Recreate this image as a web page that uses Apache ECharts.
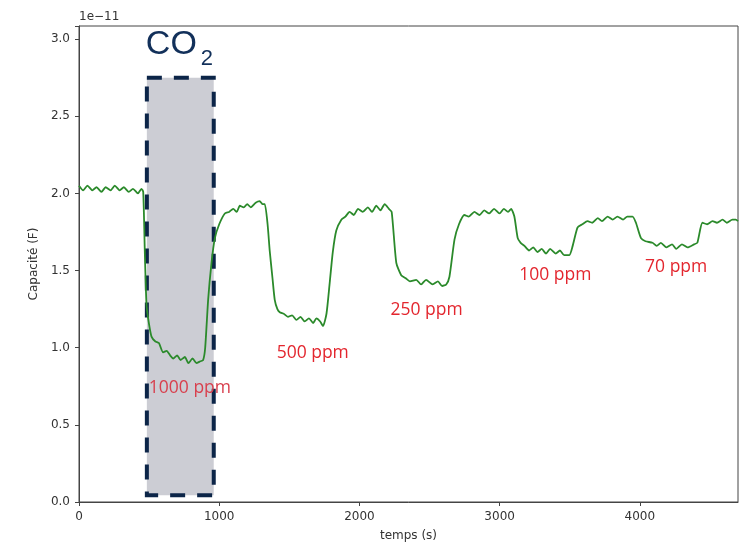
<!DOCTYPE html>
<html>
<head>
<meta charset="utf-8">
<script src="https://cdn.jsdelivr.net/npm/echarts@6/dist/echarts.min.js"></script>
<style>html,body{margin:0;padding:0;background:#fff}#c{width:743px;height:549px}</style>
</head>
<body>
<div id="c"></div>
<script>
// ---- data (capacitance in units of 1e-11 F vs time in s) ----
const times = [0,30,60,95,125,160,190,225,255,290,320,355,385,420,445,458,
 470,482,500,518,545,570,600,625,650,672,700,725,755,780,810,838,860,885,900,921,945,969,1000,1040,1070,1100,1125,1147,1175,1200,1225,1260,1289,1310,1325,
 1345,1360,1380,1396,1415,1432,1460,1490,1520,1551,1580,1610,1640,1670,1693,1720,1740,1765,1788,1810,1835,1871,1900,1930,1960,1990,2023,2060,2090,2120,2150,2180,2210,2230,
 2263,2298,2330,2360,2405,2440,2475,2523,2560,2590,2619,2642,2678,2710,2749,2780,2820,2856,2890,2925,2960,2999,3030,3060,3082,
 3105,3129,3150,3177,3210,3240,3270,3300,3331,3360,3400,3430,3460,3497,3521,3556,3590,3627,3660,3700,3730,3770,3806,3840,3880,3910,3948,
 3972,4008,4040,4090,4120,4150,4190,4230,4260,4300,4340,4387,4410,4446,4480,4518,4550,4590,4620,4660,4684,4700];
const capacite = [2.05,2.02,2.05,2.02,2.04,2.01,2.04,2.02,2.05,2.02,2.04,2.01,2.03,2.00,2.03,2.01,
 1.60,1.27,1.15,1.07,1.04,1.03,0.97,0.98,0.95,0.93,0.95,0.92,0.94,0.90,0.93,0.90,0.91,0.92,1.00,1.31,1.55,1.71,1.80,1.87,1.88,1.90,1.88,1.92,1.91,1.93,1.91,1.94,1.95,1.93,1.93,
 1.80,1.63,1.45,1.31,1.25,1.23,1.22,1.20,1.21,1.18,1.20,1.17,1.19,1.16,1.19,1.17,1.14,1.22,1.42,1.62,1.76,1.83,1.85,1.88,1.86,1.90,1.88,1.91,1.88,1.92,1.89,1.93,1.90,1.88,
 1.55,1.47,1.45,1.43,1.44,1.41,1.44,1.41,1.43,1.40,1.41,1.46,1.70,1.80,1.86,1.85,1.88,1.86,1.89,1.87,1.90,1.87,1.90,1.88,1.90,
 1.85,1.71,1.68,1.66,1.63,1.65,1.62,1.64,1.61,1.64,1.61,1.63,1.60,1.60,1.66,1.78,1.80,1.82,1.81,1.84,1.82,1.85,1.83,1.85,1.83,1.85,1.85,
 1.81,1.71,1.69,1.68,1.66,1.68,1.65,1.67,1.64,1.67,1.65,1.67,1.68,1.81,1.80,1.82,1.81,1.83,1.81,1.83,1.83,1.82];
const concentrations = ['1000 ppm','500 ppm','250 ppm','100 ppm','70 ppm'];
const co2Window = [484, 961];          // s, highlighted exposure window
const co2Range = [0.044, 2.75];        // 1e-11 F, box vertical extent
const xTicks = [0, 1000, 2000, 3000, 4000];
const yTicks = ['0.0','0.5','1.0','1.5','2.0','2.5','3.0'];

// annotation anchors (data coordinates)
const labelAnchors = [[791,0.738],[1667,0.966],[2479,1.245],[3397,1.47],[4259,1.52]];

const chart = echarts.init(document.getElementById('c'), null, {renderer:'canvas'});
const axisFont = {fontFamily:'DejaVu Sans', fontSize:12, color:'#333'};
chart.setOption({
  animation:false,
  backgroundColor:'#fff',
  grid:{left:79, top:26, right:5, bottom:47, show:true, borderColor:'#444', borderWidth:1, backgroundColor:'transparent'},
  graphic:[{type:'text', left:79, top:11, style:{text:'1e\u221211', font:'12px "DejaVu Sans"', fill:'#333'}}],
  xAxis:{type:'value', min:0, max:4700, interval:1000,
    name:'temps (s)', nameLocation:'middle', nameGap:28, nameTextStyle:axisFont,
    axisLine:{show:true, lineStyle:{color:'#444', width:1}},
    axisTick:{show:true, length:4, lineStyle:{color:'#444'}},
    axisLabel:Object.assign({margin:9, showMaxLabel:false, formatter:v=>xTicks.indexOf(v)>=0?String(v):''}, axisFont),
    splitLine:{show:false}},
  yAxis:{type:'value', min:0, max:3.085, interval:0.5,
    name:'Capacité (F)', nameLocation:'middle', nameGap:36, nameRotate:90, nameTextStyle:axisFont,
    axisLine:{show:true, lineStyle:{color:'#444', width:1}},
    axisTick:{show:true, length:4, lineStyle:{color:'#444'}},
    axisLabel:Object.assign({margin:9, showMaxLabel:true, formatter:v=>{const s=v.toFixed(1);return yTicks.indexOf(s)>=0&&Math.abs(v-parseFloat(s))<1e-9?s:'';}}, axisFont),
    splitLine:{show:false}},
  series:[{
    type:'line', data:times.map((t,i)=>[t,capacite[i]]), showSymbol:false, symbol:'none',
    smooth:0.2, lineStyle:{color:'#2b8a2b', width:1.8}, z:2
  },{
    type:'line', data:[], z:4, symbol:'none',
    markArea:{silent:true,
      itemStyle:{color:'rgba(162,164,176,0.55)', borderColor:'#0c2548', borderWidth:4, borderType:[15,12]},
      label:{show:true, position:[1,-12], align:'left', verticalAlign:'bottom',
        formatter:'{c|CO}{s|2}',
        rich:{c:{fontFamily:'Liberation Sans', fontSize:34, color:'#12305a', lineHeight:36, verticalAlign:'top'},
              s:{fontFamily:'Liberation Sans', fontSize:22, color:'#12305a', lineHeight:22, padding:[20,0,0,4], verticalAlign:'top'}}},
      data:[[{coord:[co2Window[0], co2Range[1]]},{coord:[co2Window[1], co2Range[0]]}]]},
    markPoint:{silent:true, symbol:'circle', symbolSize:0,
      label:{show:true, position:'inside', formatter:'{b}', fontFamily:'Open Sans', fontSize:17.5, color:'#e3262e'},
      data:concentrations.map((n,i)=>({name:n, coord:labelAnchors[i], value:0,
        label: i===0 ? {color:'#d8404e'} : undefined}))}
  }]
});
</script>
</body>
</html>
